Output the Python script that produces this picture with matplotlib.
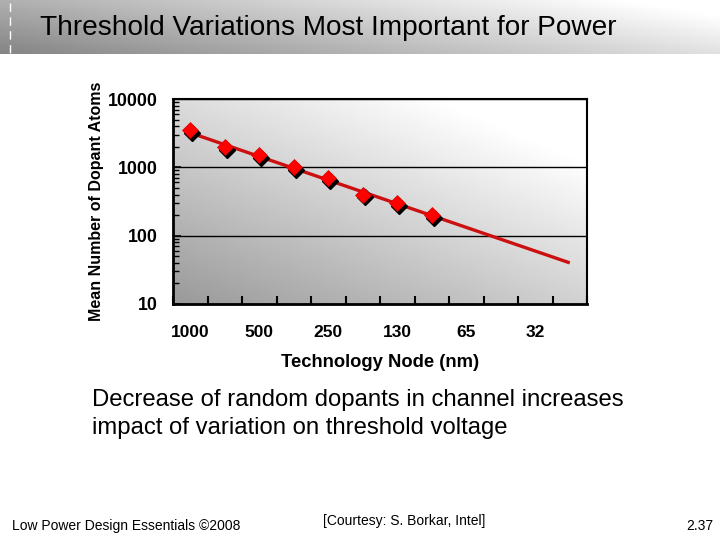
import numpy as np
import matplotlib
matplotlib.use("Agg")
import matplotlib.pyplot as plt
import matplotlib.transforms as mtransforms
from matplotlib.ticker import FixedLocator, NullFormatter, FixedFormatter

# ---- data ----
nodes = ["1000", "700", "500", "350", "250", "180", "130", "90", "65", "45", "32", "22"]
labeled_nodes = ["1000", "500", "250", "130", "65", "32"]
measured_nodes = ["1000", "700", "500", "350", "250", "180", "130", "90"]
dopants = [3500, 2000, 1500, 1000, 700, 400, 300, 200]
trend_nodes = ["1000", "22"]
trend_values = [3200, 40]
y_ticks = [10, 100, 1000, 10000]

plt.rcParams['font.family'] = ['Liberation Sans', 'DejaVu Sans']

fig = plt.figure(figsize=(7.2, 5.4), dpi=100)

# header gradient band
hdr = fig.add_axes([0, 1 - 54 / 540, 1, 54 / 540])
hdr.set_axis_off()
gx = np.linspace(0, 1, 400)
gy = np.linspace(0, 1, 60)
GX, GY = np.meshgrid(gx, gy)
val = 0.52 + 0.48 * np.clip(0.75 * GX + 0.35 * GY, 0, 1)
hdr.imshow(val, cmap='gray', vmin=0, vmax=1, aspect='auto', extent=[0, 1, 0, 1],
           origin='lower')
hdr.set_xlim(0, 1)
hdr.set_ylim(0, 1)
hdr.plot([10 / 720, 10 / 720], [0.02, 1], color='white', lw=1, ls=(0, (6, 4)))

fig.text(40 / 720, 1 - 28 / 540, "Threshold Variations Most Important for Power",
         family=['Liberation Sans Narrow', 'Liberation Sans', 'DejaVu Sans'],
         fontsize=20.2, va='center', ha='left', color='black')

ax = fig.add_axes([173 / 720, 1 - 304 / 540, (587 - 173) / 720, (304 - 99) / 540])
ax.set_yscale('log')
ax.set_ylim(10, 10000)
ax.set_xlim(-0.5, len(nodes) - 0.5)

# plot-area gradient
px = np.linspace(0, 1, 300)
py = np.linspace(0, 1, 200)
PX, PY = np.meshgrid(px, py)
bg = 0.60 + 0.40 * np.clip(0.55 * PX + 0.65 * PY, 0, 1)
ax.imshow(bg, cmap='gray', vmin=0, vmax=1, aspect='auto', extent=[0, 1, 0, 1],
          origin='lower', transform=ax.transAxes, zorder=0)

ax.yaxis.grid(True, which='major', color='black', lw=1, zorder=1)
ax.set_axisbelow(False)

xi = [nodes.index(n) for n in measured_nodes]
ti = [nodes.index(n) for n in trend_nodes]
ax.plot(ti, trend_values, color='#cc1010', lw=2.4, zorder=3, solid_capstyle='butt')

shadow = mtransforms.offset_copy(ax.transData, fig=fig, x=1.5, y=-2.0, units='points')
ax.plot(xi, dopants, ls='none', marker='D', ms=8.3, color='black', transform=shadow,
        zorder=4)
ax.plot(xi, dopants, ls='none', marker='D', ms=8.3, color='#ff0000', mec='#dd0000',
        mew=0.5, zorder=5)

for s in ax.spines.values():
    s.set_color('black')
    s.set_zorder(6)
ax.spines['left'].set_linewidth(2)
ax.spines['bottom'].set_linewidth(2)
ax.spines['top'].set_linewidth(1.5)
ax.spines['right'].set_linewidth(1.5)

# y ticks
ax.yaxis.set_major_locator(FixedLocator(y_ticks))
ax.yaxis.set_major_formatter(FixedFormatter([str(v) for v in y_ticks]))
ax.yaxis.set_minor_locator(matplotlib.ticker.LogLocator(base=10, subs=np.arange(2, 10)))
ax.yaxis.set_minor_formatter(NullFormatter())
ax.tick_params(axis='y', which='major', direction='in', length=6, width=1.2, pad=11,
               labelsize=12.8)
ax.tick_params(axis='y', which='minor', direction='in', length=4, width=1)
for t in ax.get_yticklabels():
    t.set_fontweight('bold')

# x ticks: boundaries as tick marks, labels at centers
ax.xaxis.set_major_locator(FixedLocator(np.arange(-0.5, len(nodes), 1.0)))
ax.xaxis.set_major_formatter(NullFormatter())
ax.xaxis.set_minor_locator(FixedLocator([nodes.index(n) for n in labeled_nodes]))
ax.xaxis.set_minor_formatter(FixedFormatter(labeled_nodes))
ax.tick_params(axis='x', which='minor', length=0, pad=15, labelsize=12.5)
ax.tick_params(axis='x', which='major', direction='in', length=6, width=1.5)
for t in ax.xaxis.get_minorticklabels():
    t.set_fontweight('bold')

ax.set_xlabel("Technology Node (nm)", fontsize=13.2, fontweight='bold', labelpad=10)
ax.set_ylabel("Mean Number of Dopant Atoms", fontsize=11.5, fontweight='bold',
              labelpad=3)

fig.text(92 / 720, 1 - 414 / 540,
         "Decrease of random dopants in channel increases\nimpact of variation on threshold voltage",
         fontsize=17.2, ha='left', va='center', linespacing=1.32)

foot_family = ['Liberation Sans Narrow', 'Liberation Sans', 'DejaVu Sans']
fig.text(12 / 720, 1 - 526 / 540, "Low Power Design Essentials ©2008", fontsize=10,
         family=foot_family, ha='left', va='center')
fig.text(323 / 720, 1 - 521 / 540, "[Courtesy: S. Borkar, Intel]", fontsize=10,
         family=foot_family, ha='left', va='center')
fig.text(713 / 720, 1 - 526 / 540, "2.37", fontsize=10, family=foot_family,
         ha='right', va='center')

fig.savefig("out.png", dpi=100)
